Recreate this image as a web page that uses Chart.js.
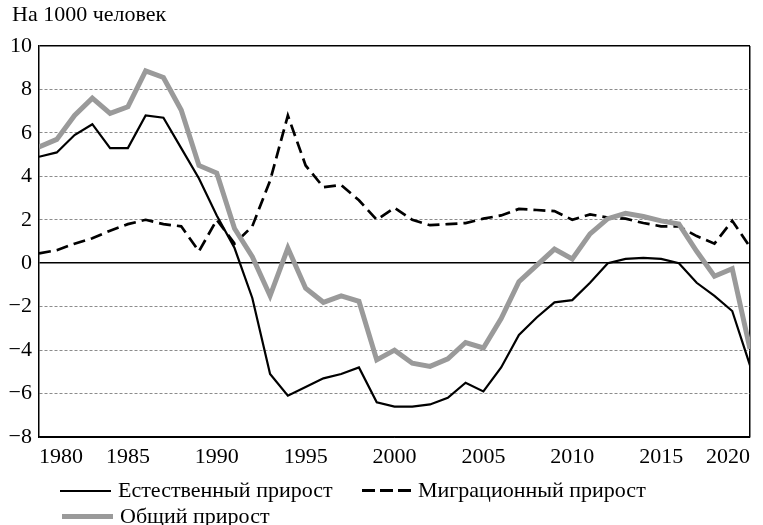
<!DOCTYPE html>
<html>
<head>
<meta charset="utf-8">
<script src="https://cdn.jsdelivr.net/npm/chart.js@4/dist/chart.umd.min.js"></script>
<style>
  html, body { margin: 0; padding: 0; background: #fff; }
  #wrap { position: relative; width: 763px; height: 525px; font-family: "Liberation Serif", "DejaVu Serif", serif; color: #000; }
  #chart { position: absolute; left: 0; top: 0; }
  .title { position: absolute; left: 12px; top: 1px; font-size: 22px; line-height: 26px; }
  .item { position: absolute; font-size: 22px; line-height: 24px; white-space: nowrap; }
  .item i { display: inline-block; width: 51px; vertical-align: middle; margin-right: 7px; position: relative; top: -1px; }
</style>
</head>
<body>
<div id="wrap">
  <canvas id="chart" width="763" height="525"></canvas>
  <div class="title">На 1000 человек</div>
  <div class="item" style="left:60px; top:478px;"><i style="height:2px; background:#000;"></i>Естественный прирост</div>
  <div class="item" style="left:362px; top:478px;"><i style="width:49px; height:3px; background:repeating-linear-gradient(to right, #000 0 13px, transparent 13px 18px);"></i>Миграционный прирост</div>
  <div class="item" style="left:62px; top:504px;"><i style="height:5px; background:#9a9a9a;"></i>Общий прирост</div>
</div>
<script>
// years and rates per 1000 people
const years = [];
for (let y = 1980; y <= 2020; y++) years.push(y);

const natural = [4.9, 5.1, 5.9, 6.4, 5.3, 5.3, 6.8, 6.7, 5.3, 3.9,
  2.2, 0.7, -1.6, -5.1, -6.1, -5.7, -5.3, -5.1, -4.8, -6.4,
  -6.6, -6.6, -6.5, -6.2, -5.5, -5.9, -4.8, -3.3, -2.5, -1.8,
  -1.7, -0.9, 0.0, 0.2, 0.25, 0.2, 0.0, -0.9, -1.5, -2.2, -4.7];

const migration = [0.45, 0.6, 0.9, 1.15, 1.5, 1.8, 2.0, 1.8, 1.7, 0.55,
  2.0, 0.9, 1.7, 3.8, 6.8, 4.5, 3.5, 3.6, 2.9, 2.0,
  2.55, 2.0, 1.75, 1.8, 1.85, 2.05, 2.2, 2.5, 2.45, 2.4,
  2.0, 2.25, 2.1, 2.05, 1.85, 1.7, 1.7, 1.25, 0.9, 1.95, 0.75];

const total = [5.35, 5.7, 6.8, 7.6, 6.9, 7.2, 8.85, 8.55, 7.05, 4.5,
  4.15, 1.6, 0.3, -1.5, 0.7, -1.15, -1.8, -1.5, -1.75, -4.45,
  -4.0, -4.6, -4.75, -4.4, -3.65, -3.9, -2.55, -0.85, -0.1, 0.65,
  0.2, 1.35, 2.05, 2.3, 2.15, 1.95, 1.8, 0.55, -0.6, -0.25, -3.95];

const yMin = -8, yMax = 10, yStep = 2;
const xMin = 1980, xMax = 2020, xStep = 5;

const pts = arr => years.map((yr, i) => ({ x: yr, y: arr[i] }));
const font = { family: '"Liberation Serif", "DejaVu Serif", serif', size: 22 };

new Chart(document.getElementById('chart'), {
  type: 'line',
  data: {
    datasets: [
      { label: 'Естественный прирост', data: pts(natural), borderColor: '#000', borderWidth: 2.2 },
      { label: 'Общий прирост', data: pts(total), borderColor: '#9a9a9a', borderWidth: 5 },
      { label: 'Миграционный прирост', data: pts(migration), borderColor: '#000', borderWidth: 2.7, borderDash: [12, 6] }
    ]
  },
  options: {
    responsive: false,
    animation: false,
    layout: { padding: { left: 0, right: 13, top: 46, bottom: 0 } },
    elements: { point: { radius: 0 }, line: { tension: 0, fill: false } },
    plugins: { legend: { display: false }, tooltip: { enabled: false } },
    scales: {
      x: {
        type: 'linear', min: xMin, max: xMax,
        afterFit: s => { s.height = 88; },
        ticks: { stepSize: xStep, color: '#000', font: font, padding: 7, align: 'inner', maxRotation: 0,
          callback: v => String(v) },
        grid: {
          drawTicks: false,
          color: c => (c.tick && c.tick.value === xMax) ? '#000' : 'rgba(0,0,0,0)',
          lineWidth: 1.5
        },
        border: { color: '#000', width: 1.5 }
      },
      y: {
        min: yMin, max: yMax,
        afterFit: s => { s.width = 39; },
        ticks: { stepSize: yStep, color: '#000', font: font, padding: 7,
          callback: v => v < 0 ? '\u2212' + Math.abs(v) : String(v) },
        grid: {
          drawTicks: false,
          color: c => {
            const v = c.tick ? c.tick.value : null;
            if (v === 0 || v === yMax || v === yMin) return '#000';
            return '#8c8c8c';
          },
          lineWidth: c => (c.tick && (c.tick.value === 0 || c.tick.value === yMax)) ? 1.5 : 1
        },
        border: {
          color: '#000', width: 1.5,
          dash: c => (c.type === 'tick' && c.tick.value !== 0 && c.tick.value !== yMax && c.tick.value !== yMin) ? [3, 2] : []
        }
      }
    }
  }
});
</script>
</body>
</html>
